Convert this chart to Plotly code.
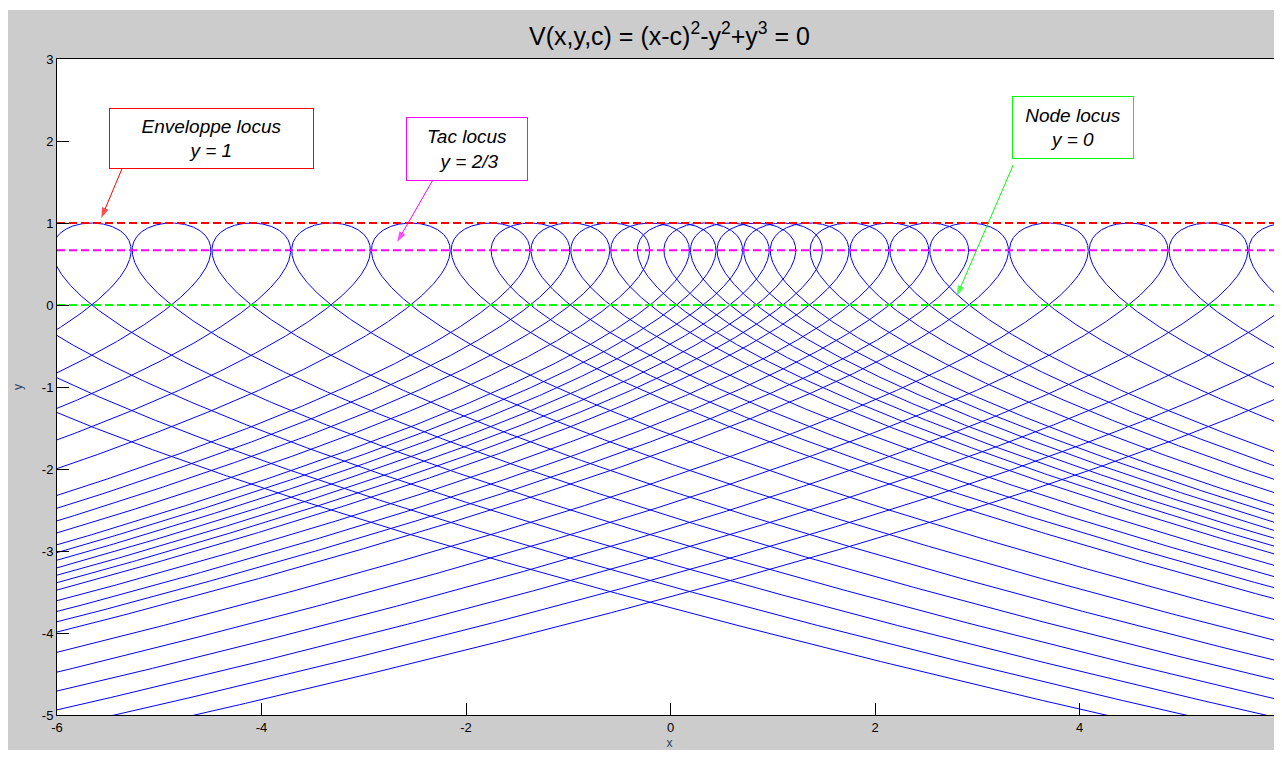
import numpy as np
import plotly.graph_objects as go

# ---- data ----
# parameter c of each curve V(x,y,c) = (x-c)^2 - y^2 + y^3 = 0 (node at x = c, y = 0)
c_base = [-8.00, -7.22, -6.44, -5.66, -4.88, -4.10, -3.32, -2.54, -1.76, -0.98,
          -0.20, 0.58, 1.36, 2.14, 2.92, 3.70, 4.48, 5.26, 6.04, 6.82, 7.60]
c_half = [-1.37, -0.59, 1.75, 2.53]
c_third = [0.06, 0.32, 0.84, 1.10]

locus_names = ["Enveloppe locus", "Tac locus", "Node locus"]
locus_labels = ["y = 1", " y = 2/3", "y = 0"]
locus_y = [1.0, 2.0 / 3.0, 0.0]
locus_colors = ["#ff0000", "#ff00ff", "#00ff00"]

# arrow tail / head (data units) from each box to its locus line
arrow_tail_x = [-5.361, -2.33, 3.351]
arrow_tail_y = [1.671, 1.512, 1.707]
arrow_head_x = [-5.567, -2.673, 2.80]
arrow_head_y = [1.061, 0.768, 0.11]

x_ticks = [-6, -4, -2, 0, 2, 4]
y_ticks = [-5, -4, -3, -2, -1, 0, 1, 2, 3]

fig = go.Figure()

# curves: x = c -/+ y*s with y = 1 - s^2 (the title equation solved for x)
s = np.linspace(0, np.sqrt(6.3), 700)
yy = 1 - s ** 2
for c in sorted(c_base + c_half + c_third):
    xl = c - yy * s
    xr = c + yy * s
    xs = np.concatenate([xl[::-1], xr[1:]])
    ys = np.concatenate([yy[::-1], yy[1:]])
    fig.add_trace(go.Scatter(x=xs, y=ys, mode="lines",
                             line=dict(color="#0000ff", width=1),
                             hoverinfo="skip", showlegend=False))

for ly, col in zip(locus_y, locus_colors):
    fig.add_trace(go.Scatter(x=[-6, 6], y=[ly, ly], mode="lines",
                             line=dict(color=col, width=2, dash="8px,4px"),
                             hoverinfo="skip", showlegend=False))

# arrows drawn as line + arrow marker
for tx, ty, hx, hy, col in zip(arrow_tail_x, arrow_tail_y, arrow_head_x, arrow_head_y,
                               locus_colors):
    fig.add_trace(go.Scatter(x=[tx, hx], y=[ty, hy], mode="lines+markers",
                             line=dict(color=col, width=1),
                             marker=dict(symbol=["circle", "arrow"], size=[0, 11],
                                         angleref="previous", color=col,
                                         line=dict(width=0)),
                             hoverinfo="skip", showlegend=False))

# text boxes
box_pos = [(-4.486, 2.03, 201, 57),
           (-1.988, 1.902, 118, 60),
           (3.938, 2.165, 118, 59)]
for name, lab, (bx, by, bw, bh), bc in zip(locus_names, locus_labels, box_pos, locus_colors):
    fig.add_annotation(x=bx, y=by, xref="x", yref="y", showarrow=False,
                       text="<i>" + name + "</i><br><i>" + lab + "</i>",
                       font=dict(family="Liberation Sans, Arial", size=19, color="#000000"),
                       bgcolor="#ffffff", bordercolor=bc, borderwidth=1,
                       width=bw, height=bh, align="center", valign="middle")

# thin white strip at the top of the screenshot
fig.add_shape(type="rect", xref="paper", yref="paper", x0=-0.1, x1=1.05,
              y0=1.0747, y1=1.09, fillcolor="#ffffff", line=dict(width=0), layer="above")

axis_common = dict(showgrid=False, zeroline=False, showline=True, linecolor="#000000",
                   linewidth=1, mirror=True, ticks="inside", ticklen=12, tickwidth=1,
                   tickcolor="#000000",
                   tickfont=dict(family="Liberation Sans, Arial", size=13, color="#000000"))

fig.update_layout(
    width=1274, height=742,
    margin=dict(l=49, r=0, t=51, b=35, pad=0),
    paper_bgcolor="#cccccc",
    plot_bgcolor="#ffffff",
    title=dict(text="V(x,y,c) = (x-c)<sup>2</sup>-y<sup>2</sup>+y<sup>3</sup> = 0",
               font=dict(family="Liberation Sans, Arial", size=25, color="#000000"),
               x=0.5, xanchor="center", xref="paper",
               y=1 - 28 / 742, yanchor="middle", yref="container"),
    xaxis=dict(range=[-6, 5.98], tickvals=x_ticks, ticktext=[str(v) for v in x_ticks],
               title=dict(text="x", font=dict(family="Liberation Sans, Arial", size=12),
                          standoff=7),
               **axis_common),
    yaxis=dict(range=[-5, 3], tickvals=y_ticks, ticktext=[str(v) for v in y_ticks],
               title=dict(text="y", font=dict(family="Liberation Sans, Arial", size=12),
                          standoff=16),
               **axis_common),
)

fig.write_html("out.html")
